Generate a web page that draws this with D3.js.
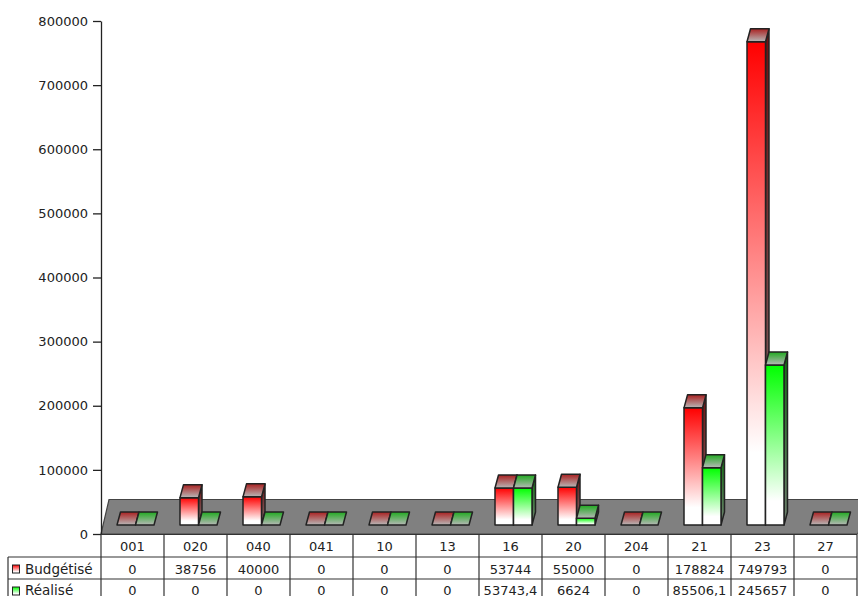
<!DOCTYPE html>
<html>
<head>
<meta charset="utf-8">
<script src="https://cdn.jsdelivr.net/npm/d3@7"></script>
<style>
    body { margin: 0; background: #fff; overflow: hidden; }
    text { font-family: "DejaVu Sans", sans-serif; font-size: 13px; fill: #222; }
</style>
</head>
<body>
<div id="wrapper"></div>
<script>
const categories = ["001", "020", "040", "041", "10", "13", "16", "20", "204", "21", "23", "27"];
const seriesNames = ["Budgétisé", "Réalisé"];
const budgetise = [0, 38756, 40000, 0, 0, 0, 53744, 55000, 0, 178824, 749793, 0];
const realise = [0, 0, 0, 0, 0, 0, 53743.4, 6624, 0, 85506.1, 245657, 0];
const yTicks = [0, 100000, 200000, 300000, 400000, 500000, 600000, 700000, 800000];

const seriesValues = [budgetise, realise];
const keys = ["red", "green"];

const width = 858, height = 596;
const left = 101, right = 857, axisTop = 21, axisBottom = 534;
const tableLeft = 8, rowY = [534.5, 557, 579, 601];
const rowBaseline = [574, 595];
const barBase = 525, depthX = 3.5, depthY = 13;

const svg = d3.select("#wrapper").append("svg")
    .attr("width", width)
    .attr("height", height)
    .style("display", "block");

// gradients for the faces of the bars
const defs = svg.append("defs");
function gradient(id, top, bottom, end) {
    const g = defs.append("linearGradient").attr("id", id)
        .attr("x1", 0).attr("y1", 0).attr("x2", 0).attr("y2", 1);
    g.append("stop").attr("offset", 0).attr("stop-color", top);
    g.append("stop").attr("offset", end).attr("stop-color", bottom);
}
gradient("red-front", "#ff0000", "#ffffff", 0.85);
gradient("green-front", "#00ff00", "#ffffff", 0.85);
gradient("red-top", "#aa2020", "#b8b8b8", 1);
gradient("green-top", "#20aa20", "#b8b8b8", 1);
gradient("red-side", "#701010", "#807070", 1);
gradient("green-side", "#107010", "#708070", 1);

const y = d3.scaleLinear().domain([0, 800000]).range([axisBottom, axisTop]);
const x = d3.scaleBand().domain(categories).range([left, right]);
const inner = d3.scaleBand().domain(keys).range([16, 53]);

// floor
svg.append("path")
    .attr("d", "M" + left + "," + axisBottom + "L" + (left + 8) + ",499.5L" + (width + 8) + ",499.5L" + width + "," + axisBottom + "Z")
    .attr("fill", "#808080")
    .attr("stroke", "#444")
    .attr("stroke-width", 1.2);

const line = d3.line();

// bars
keys.forEach((key, s) => {
    const bars = svg.append("g").selectAll("g")
        .data(categories.map((c, i) => ({ c: c, v: seriesValues[s][i] })))
        .join("g")
        .attr("stroke", "#222")
        .attr("stroke-width", 1.5)
        .attr("stroke-linejoin", "round");

    const xl = d => x(d.c) + inner(key);
    const xr = d => xl(d) + inner.bandwidth();
    const top = d => d.v > 0 ? y(d.v) - 11.5 : barBase;

    bars.filter(d => d.v > 0).append("path")
        .attr("fill", "url(#" + key + "-side)")
        .attr("d", d => line([
            [xr(d), top(d)],
            [xr(d) + depthX, top(d) - depthY],
            [xr(d) + depthX, barBase - depthY],
            [xr(d), barBase]
        ]) + "Z");

    bars.filter(d => d.v > 0).append("rect")
        .attr("fill", "url(#" + key + "-front)")
        .attr("x", xl)
        .attr("y", top)
        .attr("width", inner.bandwidth())
        .attr("height", d => barBase - top(d));

    bars.append("path")
        .attr("fill", "url(#" + key + "-top)")
        .attr("d", d => line([
            [xl(d), top(d)],
            [xl(d) + depthX, top(d) - depthY],
            [xr(d) + depthX, top(d) - depthY],
            [xr(d), top(d)]
        ]) + "Z");
});

// y axis
const yAxis = d3.axisLeft(y)
    .tickValues(yTicks)
    .tickFormat(d => d)
    .tickSize(8)
    .tickPadding(5)
    .tickSizeOuter(0);

const yG = svg.append("g")
    .attr("transform", "translate(" + left + ",0)")
    .call(yAxis);
yG.selectAll("path, line").attr("stroke", "#222").attr("stroke-width", 1.3);
yG.selectAll("text").style("font-family", "DejaVu Sans").style("font-size", "13px").attr("fill", "#222");

// table below the chart
const table = svg.append("g").attr("stroke", "#333").attr("stroke-width", 1.2);

rowY.forEach((ry, i) => {
    table.append("line")
        .attr("x1", i === 0 ? left : tableLeft)
        .attr("x2", right)
        .attr("y1", ry)
        .attr("y2", ry);
});

x.domain().concat("end").forEach(c => {
    const cx = c === "end" ? right : x(c);
    table.append("line")
        .attr("x1", cx).attr("x2", cx)
        .attr("y1", rowY[0]).attr("y2", height);
});

table.append("line")
    .attr("x1", tableLeft).attr("x2", tableLeft)
    .attr("y1", rowY[1]).attr("y2", height);

const cellText = svg.append("g").attr("text-anchor", "middle");

cellText.selectAll(".head")
    .data(categories)
    .join("text")
    .attr("class", "head")
    .attr("x", d => x(d) + x.bandwidth() / 2)
    .attr("y", rowY[0] + 16.5)
    .text(d => d);

seriesValues.forEach((values, s) => {
    cellText.selectAll(".row" + s)
        .data(values)
        .join("text")
        .attr("class", "row" + s)
        .attr("x", (d, i) => x(categories[i]) + x.bandwidth() / 2)
        .attr("y", rowBaseline[s])
        .text(d => String(d).replace(".", ","));

    // legend cell
    svg.append("rect")
        .attr("x", 12.5)
        .attr("y", rowY[s + 1] + 8)
        .attr("width", 7)
        .attr("height", 8)
        .attr("fill", "url(#" + keys[s] + "-front)")
        .attr("stroke", "#222");

    svg.append("text")
        .attr("x", 25)
        .attr("y", rowBaseline[s])
        .style("font-size", "13.5px")
        .text(seriesNames[s]);
});
</script>
</body>
</html>
